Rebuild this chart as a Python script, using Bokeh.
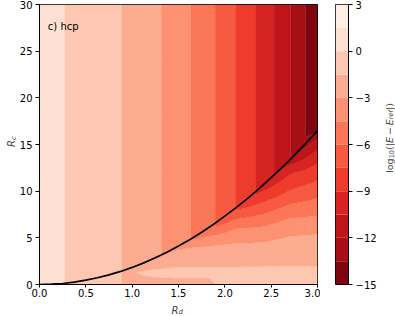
import numpy as np
from math import pi
from bokeh.plotting import figure
from bokeh.layouts import row, column
from bokeh.models import (Label, FixedTicker, PrintfTickFormatter,
                          CustomJSTickFormatter, Range1d)
from bokeh.embed import file_html
from bokeh.resources import INLINE

# ---------------- data ----------------
levels = [-15.0, -13.5, -12.0, -10.5, -9.0, -7.5, -6.0, -4.5, -3.0, -1.5, 0.0, 1.5, 3.0]

# log10 error for large R_c (depends on R_d only)
top_rd = [0.0, 0.275, 0.889, 1.318, 1.632, 1.896, 2.121, 2.336, 2.532, 2.711, 2.871, 3.0]
top_z = [0.7, 0.0, -1.5, -3.0, -4.5, -6.0, -7.5, -9.0, -10.5, -12.0, -13.5, -14.7]

# error floor caused by small R_c (rows: floor_rc, columns: floor_rd)
floor_rd = [0.0, 0.9, 1.2, 1.5, 1.8, 2.1, 2.4, 2.7, 3.0]
floor_rc = [0, 0.6, 1.3, 2, 3, 4, 5, 6, 7, 8, 9, 10, 11, 12, 13, 14, 15, 16, 17, 18, 30]
floor_z = [
    [-20, -1.8, -1.7, -1.6, -1.6, -1.3, -0.9, -0.9, -0.9],
    [-20, -1.8, -1.6, -1.55, -1.55, -1.2, -1.0, -1.0, -1.0],
    [-20, -1.7, -1.25, -1.0, -1.0, -1.0, -1.1, -1.1, -1.1],
    [-20, -2.0, -1.9, -1.6, -1.6, -1.6, -1.55, -1.55, -1.55],
    [-20, -3.0, -3.0, -2.3, -2.3, -2.0, -2.1, -1.95, -1.9],
    [-20, -4.5, -5.0, -3.2, -2.9, -2.6, -2.65, -2.4, -2.3],
    [-20, -6.0, -7.0, -5.5, -4.2, -3.6, -3.35, -2.9, -2.75],
    [-20, -7.5, -9.0, -7.5, -6.2, -4.55, -4.3, -3.6, -3.4],
    [-20, -9.0, -11.0, -9.5, -8.5, -6.05, -5.4, -4.4, -4.2],
    [-20, -10.5, -13.0, -11.5, -10.5, -7.6, -6.6, -5.4, -5.0],
    [-20, -12.0, -14.0, -13.0, -12.0, -9.2, -7.8, -6.4, -5.8],
    [-20, -13.5, -15.0, -14.0, -13.5, -10.8, -9.1, -7.4, -6.6],
    [-20, -15.0, -16.0, -15.0, -15.0, -12.3, -10.3, -8.3, -7.4],
    [-20, -16.0, -17.0, -16.0, -16.0, -13.5, -11.8, -9.2, -8.2],
    [-20, -17.0, -18.0, -17.0, -17.0, -15.0, -13.2, -10.9, -9.0],
    [-20, -18.0, -19.0, -18.0, -18.0, -16.0, -14.5, -12.8, -10.0],
    [-20, -19.0, -20.0, -19.0, -19.0, -17.0, -15.5, -14.0, -11.2],
    [-20, -20.0, -21.0, -20.0, -20.0, -18.0, -16.5, -15.0, -12.9],
    [-20, -21.0, -22.0, -21.0, -21.0, -19.0, -17.5, -16.0, -14.8],
    [-20, -22.0, -23.0, -22.0, -22.0, -20.0, -18.5, -17.0, -16.0],
    [-20, -30.0, -30.0, -30.0, -30.0, -30.0, -30.0, -25.0, -22.0],
]

# black curve
curve_rd = [0.0, 0.125, 0.25, 0.375, 0.5, 0.625, 0.75, 0.875, 1.0, 1.125, 1.25, 1.375,
            1.5, 1.625, 1.75, 1.875, 2.0, 2.125, 2.25, 2.375, 2.5, 2.625, 2.75, 2.875, 3.0]
curve_rc = [0.0, 0.03, 0.11, 0.26, 0.46, 0.72, 1.03, 1.40, 1.83, 2.32, 2.86, 3.46,
            4.12, 4.83, 5.60, 6.43, 7.32, 8.26, 9.26, 10.32, 11.44, 12.61, 13.84, 15.13, 16.47]

x_ticks = [0.0, 0.5, 1.0, 1.5, 2.0, 2.5, 3.0]
y_ticks = [0, 5, 10, 15, 20, 25, 30]
cbar_ticks = [-15, -12, -9, -6, -3, 0, 3]
panel_text = "c) hcp"

# ---------------- colours (matplotlib Reds_r, sampled at band centres) ----------------
reds = ["#fff5f0", "#fee0d2", "#fcbba1", "#fc9272", "#fb6a4a",
        "#ef3b2c", "#cb181d", "#a50f15", "#67000d"]
reds_rgb = np.array([[int(c[i:i + 2], 16) for i in (1, 3, 5)] for c in reds], float)
anchor = np.linspace(0, 1, len(reds))
palette = []
for lo, hi in zip(levels[:-1], levels[1:]):
    t = 1.0 - ((lo + hi) / 2 - levels[0]) / (levels[-1] - levels[0])
    rgb = [int(round(np.interp(t, anchor, reds_rgb[:, k]))) for k in range(3)]
    palette.append("#%02x%02x%02x" % tuple(rgb))
# colour for each level line (darker neighbour) to hide seams between bands
seam_colors = [palette[0]] + palette

# ---------------- grid for the filled contours ----------------
xf = np.linspace(0, 3, 401)
yf = np.linspace(0, 30, 401)
top_f = np.interp(xf, top_rd, top_z)
rows_f = np.array([np.interp(xf, floor_rd, r) for r in floor_z])
floor_f = np.empty((len(yf), len(xf)))
for j in range(len(xf)):
    floor_f[:, j] = np.interp(yf, floor_rc, rows_f[:, j])
zf = np.maximum(top_f[None, :], floor_f)

FONT = "DejaVu Sans"


def style_axis(ax):
    ax.axis_line_color = "black"
    ax.major_tick_line_color = "black"
    ax.major_tick_out = 4
    ax.major_tick_in = 0
    ax.minor_tick_line_color = None
    ax.major_label_text_font = FONT
    ax.major_label_text_font_size = "10px"
    ax.major_label_text_color = "black"


def text_panel(w, h, xr, yr):
    f = figure(width=w, height=h, x_range=Range1d(*xr), y_range=Range1d(*yr),
               x_axis_location=None, y_axis_location=None,
               output_backend="svg", toolbar_location=None, min_border=0,
               min_border_left=0, min_border_right=0,
               min_border_top=0, min_border_bottom=0)
    f.outline_line_color = None
    f.grid.visible = False
    return f


# ---------------- main plot ----------------
p = figure(width=304, height=300,
           x_range=Range1d(0, 3), y_range=Range1d(0, 30),
           output_backend="svg", toolbar_location=None,
           min_border_left=21, min_border_right=3,
           min_border_top=4, min_border_bottom=16)
p.grid.visible = False
p.outline_line_color = "black"
p.outline_line_alpha = 1.0

p.contour(xf, yf, zf, levels, fill_color=palette,
          line_color=seam_colors, line_width=0.6)
p.line(curve_rd, curve_rc, line_color="black", line_width=1.7)

p.xaxis.ticker = FixedTicker(ticks=x_ticks)
p.xaxis.formatter = PrintfTickFormatter(format="%.1f")
p.yaxis.ticker = FixedTicker(ticks=y_ticks)
style_axis(p.xaxis[0])
style_axis(p.yaxis[0])
p.xaxis.major_tick_out = 3
p.xaxis.major_label_standoff = 1
p.yaxis.major_label_standoff = 3

p.add_layout(Label(x=0.09, y=27.6, text=panel_text, text_font=FONT,
                   text_font_size="10px", text_color="black",
                   text_baseline="alphabetic"))

# The layout aligns the inner frames: side panels use pixel units of the
# main frame (x: 0..280 below it, y: 0..280 beside it).

# ---------------- R_d label below the plot ----------------
bottom = text_panel(304, 16, (0, 280), (0, 16))
bottom.add_layout(Label(x=133, y=6.5, text="R", text_font=FONT,
                        text_font_style="italic", text_font_size="10px",
                        text_baseline="alphabetic", text_align="left"))
bottom.add_layout(Label(x=140, y=4.8, text="d", text_font=FONT,
                        text_font_style="italic", text_font_size="7px",
                        text_baseline="alphabetic", text_align="left"))

# ---------------- R_c label left of the plot ----------------
left = text_panel(16, 316, (0, 16), (0, 280))
left.add_layout(Label(x=11, y=137.5, text="R", angle=pi / 2, text_font=FONT,
                      text_font_style="italic", text_font_size="10px",
                      text_baseline="alphabetic", text_align="left"))
left.add_layout(Label(x=13, y=144.5, text="c", angle=pi / 2, text_font=FONT,
                      text_font_style="italic", text_font_size="7px",
                      text_baseline="alphabetic", text_align="left"))

# ---------------- colour bar ----------------
cb = figure(width=59, height=316,
            x_range=Range1d(0, 1), y_range=Range1d(levels[0], levels[-1]),
            x_axis_location=None, y_axis_location="right",
            output_backend="svg", toolbar_location=None,
            min_border_left=15, min_border_right=29,
            min_border_top=4, min_border_bottom=32)
cb.grid.visible = False
cb.outline_line_color = "black"
cb.outline_line_alpha = 1.0
cb.quad(left=0, right=1, bottom=levels[:-1], top=levels[1:],
        fill_color=palette, line_color=None)
cb.yaxis.ticker = FixedTicker(ticks=cbar_ticks)
cb.yaxis.formatter = CustomJSTickFormatter(
    code="return tick < 0 ? '\u2212' + String(-tick) : String(tick);")
style_axis(cb.yaxis[0])
cb.yaxis.major_label_standoff = 3

# ---------------- colour-bar title, rotated, built from pieces ----------------
right = text_panel(16, 316, (0, 16), (0, 280))
pieces = [("log", "normal", 9.5, 14.49, 0.0),
          ("10", "normal", 6.65, 8.46, 2.0),
          ("(|", "normal", 9.5, 6.91, 0.0),
          ("E\u2009\u2212\u2009E", "italic", 9.5, 23.76, 0.0),
          ("ref", "italic", 6.65, 9.16, 2.0),
          ("|)", "normal", 9.5, 6.91, 0.0)]
total = sum(pc[3] for pc in pieces)
ypos = 146.5 - total / 2
for txt, sty, size, w, drop in pieces:
    right.add_layout(Label(x=9.5 + drop, y=ypos, text=txt, angle=pi / 2,
                           text_font=FONT, text_font_style=sty,
                           text_font_size="%.2fpx" % size,
                           text_baseline="alphabetic", text_align="left"))
    ypos += w

layout = row(left, column(p, bottom, spacing=0), cb, right, spacing=0)
open("out.html", "w").write(file_html(layout, INLINE))
